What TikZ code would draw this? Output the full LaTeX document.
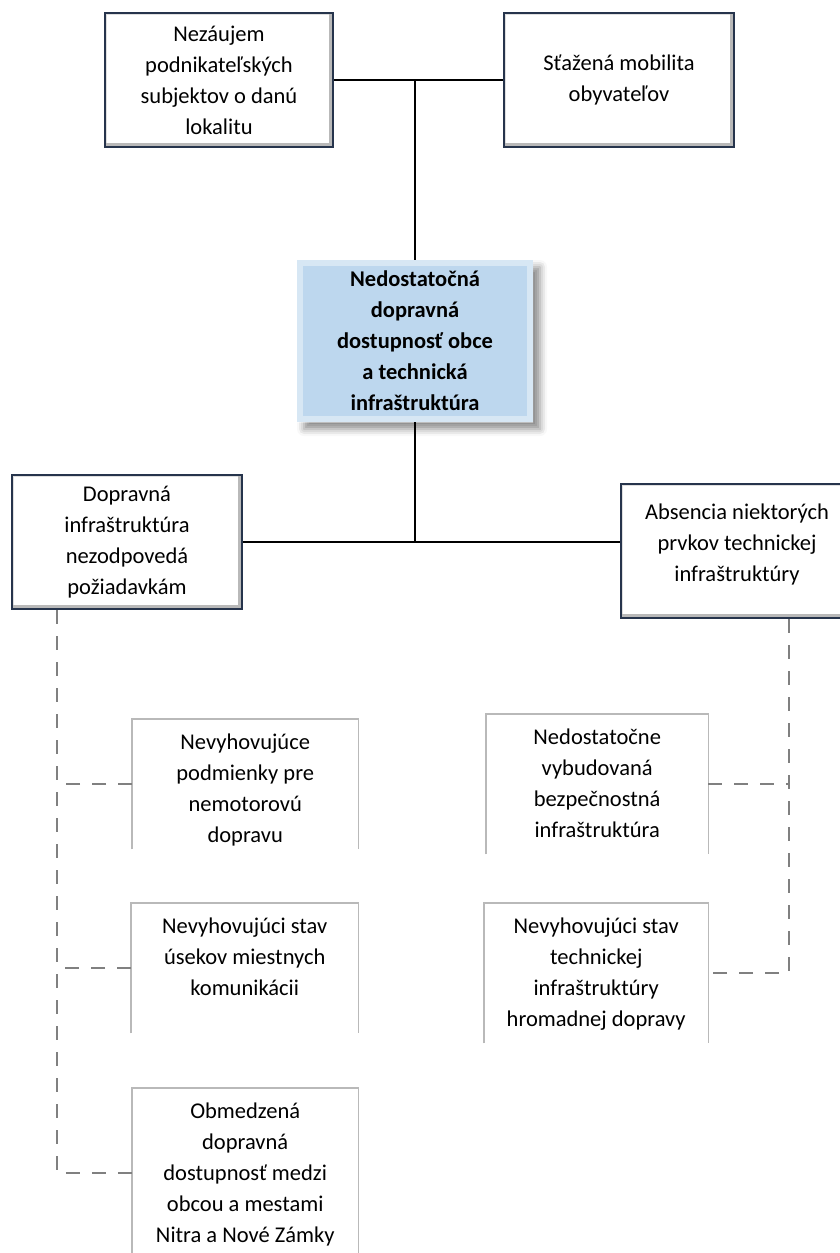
\documentclass[tikz,border=0pt]{standalone}
\usepackage{fontspec}
\setmainfont{Carlito}
\usetikzlibrary{positioning, shadows.blur}
\definecolor{boxedge}{RGB}{38,52,76}
\definecolor{corefill}{RGB}{189,215,238}
\definecolor{dashgray}{RGB}{128,128,128}
\newcommand{\celltext}[3]{\parbox[t][#1][t]{#2}{\centering\rule{0pt}{30pt}#3}}
\tikzset{
    box/.style={rectangle, draw=boxedge, line width=2pt, fill=white, inner sep=5pt, align=flush center, font=\fontsize{22.5}{31}\selectfont,
        path picture={\draw[gray!25, line width=4pt] (path picture bounding box.south west) rectangle (path picture bounding box.north east);
                      \draw[gray!55, line width=8pt] (path picture bounding box.north east) -- (path picture bounding box.south east) -- (path picture bounding box.south west);}},
    core/.style={rectangle, fill=corefill, inner sep=5pt, align=flush center, font=\fontsize{22.5}{31}\selectfont\bfseries,
        blur shadow={shadow xshift=7pt, shadow yshift=-7pt, shadow blur radius=7pt, shadow opacity=45},
        path picture={\draw[white, opacity=0.4, line width=12pt] (path picture bounding box.south west) rectangle (path picture bounding box.north east);}},
    subbox/.style={rectangle, fill=white, inner sep=0pt, font=\fontsize{22.5}{31}\selectfont},
    subline/.style={draw=gray!55, line width=1.5pt},
    line/.style={line width=2.5pt, black},
    dashline/.style={line width=2.5pt, dashgray, dash pattern=on 14pt off 12pt}
}

\begin{document}
\begin{tikzpicture}[x=1pt, y=-1pt]
    \useasboundingbox (0,0) rectangle (840,1253);

    % effects
    \node[box, text width=218pt, minimum height=134pt] (top_left) at (219,80) {Nezáujem\\podnikateľských\\subjektov o danú\\lokalitu};
    \node[box, text width=220pt, minimum height=134pt] (top_right) at (619,80) {Sťažená mobilita\\obyvateľov};

    % core problem
    \node[core, text width=226pt, minimum height=162pt] (core) at (415,341) {Nedostatočná\\dopravná\\dostupnosť obce\\a technická\\infraštruktúra};

    % causes
    \node[box, text width=220pt, minimum height=134pt] (cause_left) at (127,542) {Dopravná\\infraštruktúra\\nezodpovedá\\požiadavkám};
    \node[box, anchor=north west] (cause_right) at (620,483) {\celltext{124pt}{222pt}{Absencia niektorých\\prvkov technickej\\infraštruktúry}};

    % sub causes left
    \node[subbox, anchor=north west] (sub_l1) at (132,719) {\celltext{130pt}{226pt}{Nevyhovujúce\\podmienky pre\\nemotorovú\\dopravu}};
    \node[subbox, anchor=north west] (sub_l2) at (131,903) {\celltext{130pt}{227pt}{Nevyhovujúci stav\\úsekov miestnych\\komunikácii}};
    \node[subbox, anchor=north west] (sub_l3) at (132,1088) {\celltext{170pt}{226pt}{Obmedzená\\dopravná\\dostupnosť medzi\\obcou a mestami\\Nitra a Nové Zámky}};

    % sub causes right
    \node[subbox, anchor=north west] (sub_r1) at (486,714) {\celltext{140pt}{222pt}{Nedostatočne\\vybudovaná\\bezpečnostná\\infraštruktúra}};
    \node[subbox, anchor=north west] (sub_r2) at (484,903) {\celltext{140pt}{224pt}{Nevyhovujúci stav\\technickej\\infraštruktúry\\hromadnej dopravy}};

    \foreach \n in {sub_l1, sub_l2, sub_l3, sub_r1, sub_r2}
        \draw[subline] (\n.south west) -- (\n.north west) -- (\n.north east) -- (\n.south east);

    % Lines
    \draw[line] (top_left.east) -- (top_right.west);
    \draw[line] (core.north) -- (core.north |- top_left.east);
    \draw[line] (cause_left.east) -- (cause_left.east -| cause_right.west);
    \draw[line] (core.south) -- (core.south |- cause_left.east);

    \coordinate (trunk_left) at ([xshift=46pt]cause_left.south west);
    \coordinate (trunk_right) at ([xshift=169pt]cause_right.south west);
    \draw[dashline] (trunk_left) |- (sub_l3.west);
    \draw[dashline] (sub_l1.west) -- (sub_l1.west -| trunk_left);
    \draw[dashline] (sub_l2.west) -- (sub_l2.west -| trunk_left);
    \draw[dashline] (trunk_right) |- (sub_r2.east);
    \draw[dashline] (sub_r1.east) -- (sub_r1.east -| trunk_right);
\end{tikzpicture}
\end{document}
